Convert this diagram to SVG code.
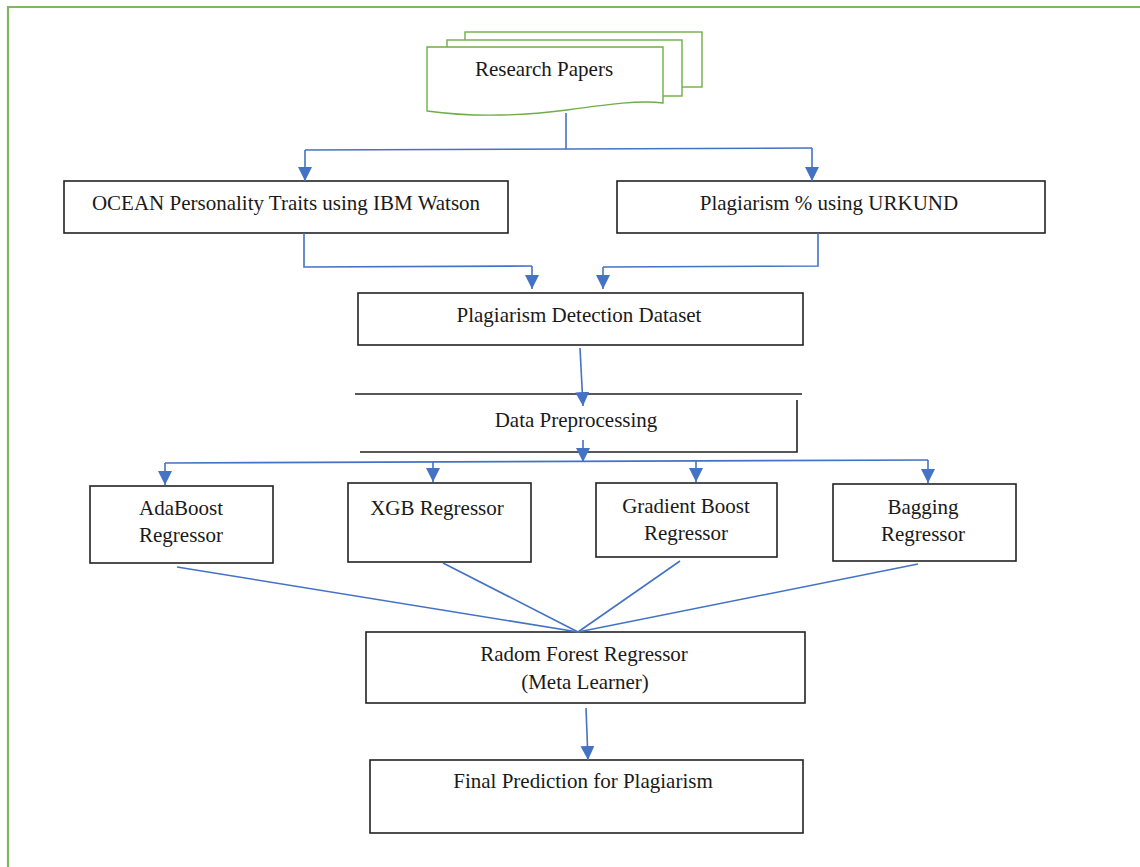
<svg xmlns="http://www.w3.org/2000/svg" width="1140" height="867" viewBox="0 0 1140 867">
<defs>
<marker id="ah" viewBox="0 0 10 10" refX="10" refY="5" markerWidth="14" markerHeight="14" markerUnits="userSpaceOnUse" orient="auto">
<path d="M0,0 L10,5 L0,10 Z" fill="#4472C4"/>
</marker>
<style>
.box{fill:#fff;stroke:#222;stroke-width:1.6}
.doc{fill:#fff;stroke:#70AD47;stroke-width:1.4}
.t{font-family:'Liberation Serif','Times New Roman',Tinos,'DejaVu Serif',serif;font-size:21px;fill:#1a1a1a;text-anchor:middle}
.c{fill:none;stroke:#4472C4;stroke-width:1.6}
.ca{fill:none;stroke:#4472C4;stroke-width:1.6;marker-end:url(#ah)}
</style>
</defs>
<rect width="1140" height="867" fill="#fff"/>
<path d="M8,867 V7 H1140" fill="none" stroke="#7DB85E" stroke-width="2.2"/>

<g id="research-papers">
<rect class="doc" x="465" y="32" width="237" height="55"/>
<rect class="doc" x="447" y="40" width="235" height="56"/>
<path class="doc" d="M427,47 H663 V103 C640,100 610,104 567,110 C520,116 470,117 427,111 Z"/>
<text class="t" x="544" y="76" font-family="Liberation Serif, serif">Research Papers</text>
</g>

<g id="ocean">
<rect class="box" x="64" y="181" width="444" height="52"/>
<text class="t" x="286" y="210">OCEAN Personality Traits using IBM Watson</text>
</g>

<g id="urkund">
<rect class="box" x="617" y="181" width="428" height="52"/>
<text class="t" x="829" y="210">Plagiarism % using URKUND</text>
</g>

<g id="dataset">
<rect class="box" x="358" y="293" width="445" height="52"/>
<text class="t" x="579" y="322">Plagiarism Detection Dataset</text>
</g>

<g id="preprocessing">
<path d="M355,394 H802 M797,400 V452 H360" fill="none" stroke="#222" stroke-width="1.6"/>
<text class="t" x="576" y="427">Data Preprocessing</text>
</g>

<g id="adaboost">
<rect class="box" x="90" y="486" width="183" height="77"/>
<text class="t" x="181" y="515">AdaBoost</text>
<text class="t" x="181" y="542">Regressor</text>
</g>

<g id="xgb">
<rect class="box" x="348" y="483" width="183" height="79"/>
<text class="t" x="437" y="515">XGB Regressor</text>
</g>

<g id="gradient">
<rect class="box" x="596" y="483" width="181" height="74"/>
<text class="t" x="686" y="513">Gradient Boost</text>
<text class="t" x="686" y="540">Regressor</text>
</g>

<g id="bagging">
<rect class="box" x="833" y="484" width="183" height="77"/>
<text class="t" x="923" y="514">Bagging</text>
<text class="t" x="923" y="541">Regressor</text>
</g>

<g id="random-forest">
<rect class="box" x="366" y="632" width="439" height="71"/>
<text class="t" x="584" y="661">Radom Forest Regressor</text>
<text class="t" x="585" y="689">(Meta Learner)</text>
</g>

<g id="final">
<rect class="box" x="370" y="760" width="433" height="73"/>
<text class="t" x="583" y="788">Final Prediction for Plagiarism</text>
</g>

<g id="connectors">
<path class="c" d="M566,113 V149"/>
<path class="c" d="M305,150 L812,148"/>
<path class="ca" d="M305,150 V181"/>
<path class="ca" d="M812,148 V181"/>
<path class="c" d="M304,233 V267 L532,266"/>
<path class="ca" d="M532,266 V289"/>
<path class="c" d="M818,233 V266 L603,267"/>
<path class="ca" d="M603,267 V289"/>
<path class="ca" d="M580,348 L583,406"/>
<path class="ca" d="M583,440 V462"/>
<path class="c" d="M165,463 L928,460"/>
<path class="ca" d="M165,463 V485"/>
<path class="ca" d="M433,462 V482"/>
<path class="ca" d="M696,461 V482"/>
<path class="ca" d="M928,460 V483"/>
<path class="c" d="M177,567 L578,632"/>
<path class="c" d="M443,563 L578,632"/>
<path class="c" d="M680,561 L578,632"/>
<path class="c" d="M918,564 L578,632"/>
<path class="ca" d="M586,708 L588,760"/>
</g>
</svg>
